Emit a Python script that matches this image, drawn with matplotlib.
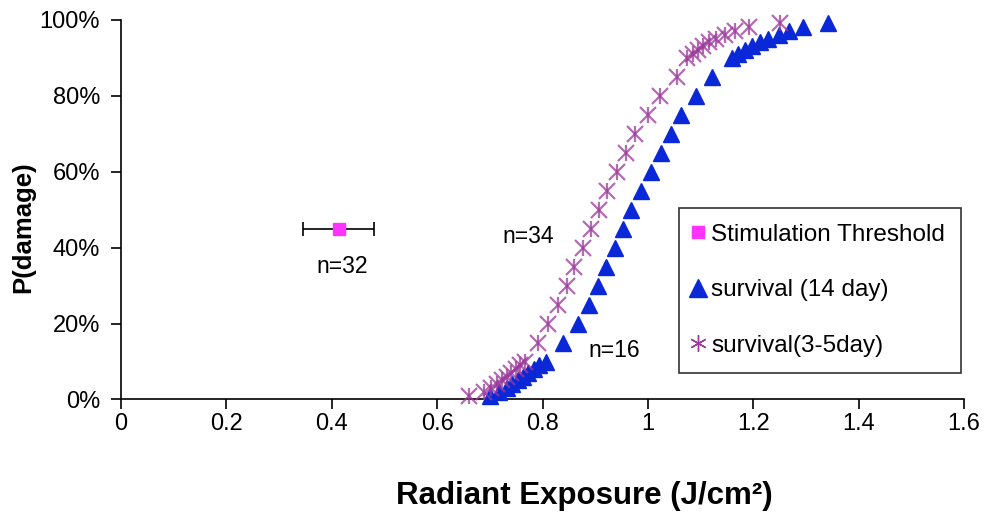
import matplotlib
matplotlib.use("Agg")
import matplotlib.pyplot as plt
from matplotlib.lines import Line2D

plt.rcParams['font.family'] = ['Liberation Sans', 'DejaVu Sans']

# Percentile levels (probit table)
pct = [1, 2, 3, 4, 5, 6, 7, 8, 9, 10, 15, 20, 25, 30, 35, 40, 45, 50,
       55, 60, 65, 70, 75, 80, 85, 90, 91, 92, 93, 94, 95, 96, 97, 98, 99]

# survival (14 day)
x14 = [0.700, 0.718, 0.732, 0.743, 0.753, 0.763, 0.773, 0.783, 0.794, 0.807,
       0.839, 0.868, 0.888, 0.905, 0.920, 0.937, 0.953, 0.968,
       0.986, 1.005, 1.024, 1.044, 1.063, 1.092, 1.121,
       1.160, 1.172, 1.185, 1.198, 1.212, 1.228, 1.248, 1.268, 1.295, 1.342]

# survival (3-5 day)
x35 = [0.660, 0.688, 0.702, 0.713, 0.723, 0.732, 0.741, 0.749, 0.757, 0.766,
       0.791, 0.810, 0.829, 0.846, 0.859, 0.876, 0.892, 0.907,
       0.922, 0.941, 0.958, 0.975, 1.000, 1.023, 1.055,
       1.075, 1.085, 1.095, 1.105, 1.116, 1.130, 1.146, 1.166, 1.192, 1.250]

# Stimulation threshold
stim_x = [0.413]
stim_y = [45]
stim_err = [0.067]

xticks = [0, 0.2, 0.4, 0.6, 0.8, 1.0, 1.2, 1.4, 1.6]
xticklabels = ['0', '0.2', '0.4', '0.6', '0.8', '1', '1.2', '1.4', '1.6']
yticks = [0, 20, 40, 60, 80, 100]
yticklabels = ['0%', '20%', '40%', '60%', '80%', '100%']

fig = plt.figure(figsize=(9.88, 5.14), dpi=100)
ax = fig.add_axes([0.1225, 0.2228, 0.8532, 0.7389])

blue = '#0A28D8'
purple = '#9B3A9B'

ax.plot(x14, pct, linestyle='none', marker='^', markersize=12,
        color=blue, markeredgecolor=blue, zorder=3, clip_on=False)
ax.plot(x35, pct, linestyle='none', marker='x', markersize=12,
        markeredgewidth=1.6, color=purple, alpha=0.75, zorder=4, clip_on=False)
ax.plot(x35, pct, linestyle='none', marker='|', markersize=12,
        markeredgewidth=1.6, color=purple, alpha=0.75, zorder=4, clip_on=False)
ax.errorbar(stim_x, stim_y, xerr=stim_err, fmt='s', color='#FF33FF',
            markersize=8, ecolor='black', elinewidth=1.2, capsize=5,
            capthick=1.2, zorder=5)

ax.text(0.42, 35.0, 'n=32', fontsize=16.5, ha='center', va='center')
ax.text(0.772, 43, 'n=34', fontsize=16.5, ha='center', va='center')
ax.text(0.937, 13.0, 'n=16', fontsize=16.5, ha='center', va='center')

ax.set_xlim(0, 1.6)
ax.set_ylim(0, 100)
ax.set_xticks(xticks)
ax.set_xticklabels(xticklabels)
ax.set_yticks(yticks)
ax.set_yticklabels(yticklabels)
ax.tick_params(axis='both', labelsize=17, direction='out', length=7,
               width=1.2, colors='black')
ax.tick_params(axis='x', pad=3)
ax.tick_params(axis='y', pad=8)
for s in ['top', 'right']:
    ax.spines[s].set_visible(False)
for s in ['left', 'bottom']:
    ax.spines[s].set_linewidth(1.2)

ax.set_xlabel('Radiant Exposure (J/cm²)', fontsize=22.5, fontweight='bold')
ax.xaxis.set_label_coords(0.5 + (584 - 542.5) / 843, -(496 - 399.5) / 379.8)
ax.xaxis.label.set_va('center')
ax.set_ylabel('P(damage)', fontsize=18.5, fontweight='bold')
ax.yaxis.set_label_coords(-(121 - 23) / 843, (399.5 - 227) / 379.8)
ax.yaxis.label.set_va('center')

handles = [
    Line2D([], [], linestyle='none', marker='s', color='#FF33FF', markersize=8),
    Line2D([], [], linestyle='none', marker='^', color=blue, markersize=13),
    Line2D([], [], linestyle='none', marker=(6, 2, 0), color=purple, markersize=12),
]
labels = ['Stimulation Threshold', 'survival (14 day)', 'survival(3-5day)']
leg = ax.legend(handles, labels, loc='upper left',
                bbox_to_anchor=(0.662, 0.505), fontsize=17.5,
                frameon=True, fancybox=False, edgecolor='black',
                handlelength=0.2, handletextpad=0.45, labelspacing=1.38,
                borderpad=0.66, borderaxespad=0)
leg.get_frame().set_linewidth(1.2)

fig.savefig('out.png', dpi=100)
